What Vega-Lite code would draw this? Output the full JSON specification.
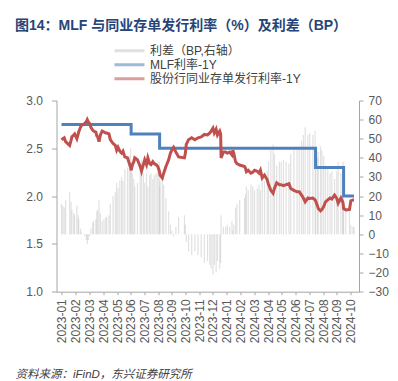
{
"$schema": "https://vega.github.io/schema/vega-lite/v6.json",
"width": 302.5,
"height": 191.2,
"autosize": {"type": "none"},
"padding": {"left": 56.5, "top": 100.5, "right": 39, "bottom": 89.3},
"background": "white",
"title": {"text": "图14：MLF 与同业存单发行利率（%）及利差（BP）", "anchor": "start", "frame": "group", "dx": -41.5, "dy": -1, "fontSize": 14, "fontWeight": "bold", "color": "#264478", "font": "Liberation Sans, Noto Sans CJK SC", "offset": 10},
"config": {
  "view": {"stroke": null},
  "axis": {"grid": false, "labelFont": "Liberation Sans, Noto Sans CJK SC", "labelFontSize": 12, "labelColor": "#595959", "domainColor": "#a6a6a6", "tickColor": "#a6a6a6"},
  "legend": {"labelFont": "Liberation Sans, Noto Sans CJK SC"}
},
"data": {"values": [
{"d":"2023-01-10","ncd":2.59,"mlf":2.75,"sp":16},
{"d":"2023-01-13","ncd":2.60,"mlf":2.75,"sp":15},
{"d":"2023-01-16","ncd":2.61,"mlf":2.75,"sp":14},
{"d":"2023-01-19","ncd":2.57,"mlf":2.75,"sp":18},
{"d":"2023-01-28","ncd":2.53,"mlf":2.75,"sp":22},
{"d":"2023-01-31","ncd":2.58,"mlf":2.75,"sp":17},
{"d":"2023-02-02","ncd":2.62,"mlf":2.75,"sp":13},
{"d":"2023-02-06","ncd":2.64,"mlf":2.75,"sp":11},
{"d":"2023-02-08","ncd":2.65,"mlf":2.75,"sp":10},
{"d":"2023-02-13","ncd":2.60,"mlf":2.75,"sp":15},
{"d":"2023-02-16","ncd":2.65,"mlf":2.75,"sp":10},
{"d":"2023-02-17","ncd":2.67,"mlf":2.75,"sp":8},
{"d":"2023-02-21","ncd":2.72,"mlf":2.75,"sp":3},
{"d":"2023-02-23","ncd":2.74,"mlf":2.75,"sp":1},
{"d":"2023-02-28","ncd":2.75,"mlf":2.75,"sp":0},
{"d":"2023-03-02","ncd":2.76,"mlf":2.75,"sp":-1},
{"d":"2023-03-06","ncd":2.78,"mlf":2.75,"sp":-3},
{"d":"2023-03-08","ncd":2.80,"mlf":2.75,"sp":-5},
{"d":"2023-03-10","ncd":2.78,"mlf":2.75,"sp":-3},
{"d":"2023-03-13","ncd":2.76,"mlf":2.75,"sp":-1},
{"d":"2023-03-16","ncd":2.72,"mlf":2.75,"sp":3},
{"d":"2023-03-20","ncd":2.69,"mlf":2.75,"sp":6},
{"d":"2023-03-22","ncd":2.68,"mlf":2.75,"sp":7},
{"d":"2023-03-27","ncd":2.67,"mlf":2.75,"sp":8},
{"d":"2023-03-29","ncd":2.63,"mlf":2.75,"sp":12},
{"d":"2023-03-31","ncd":2.62,"mlf":2.75,"sp":13},
{"d":"2023-04-03","ncd":2.57,"mlf":2.75,"sp":18},
{"d":"2023-04-06","ncd":2.64,"mlf":2.75,"sp":11},
{"d":"2023-04-10","ncd":2.68,"mlf":2.75,"sp":7},
{"d":"2023-04-14","ncd":2.67,"mlf":2.75,"sp":8},
{"d":"2023-04-18","ncd":2.66,"mlf":2.75,"sp":9},
{"d":"2023-04-20","ncd":2.66,"mlf":2.75,"sp":9},
{"d":"2023-04-25","ncd":2.65,"mlf":2.75,"sp":10},
{"d":"2023-04-28","ncd":2.59,"mlf":2.75,"sp":16},
{"d":"2023-05-04","ncd":2.55,"mlf":2.75,"sp":20},
{"d":"2023-05-09","ncd":2.53,"mlf":2.75,"sp":22},
{"d":"2023-05-12","ncd":2.48,"mlf":2.75,"sp":27},
{"d":"2023-05-15","ncd":2.51,"mlf":2.75,"sp":24},
{"d":"2023-05-19","ncd":2.47,"mlf":2.75,"sp":28},
{"d":"2023-05-23","ncd":2.45,"mlf":2.75,"sp":30},
{"d":"2023-05-26","ncd":2.47,"mlf":2.75,"sp":28},
{"d":"2023-05-30","ncd":2.41,"mlf":2.75,"sp":34},
{"d":"2023-06-05","ncd":2.40,"mlf":2.75,"sp":35},
{"d":"2023-06-09","ncd":2.34,"mlf":2.75,"sp":41},
{"d":"2023-06-12","ncd":2.30,"mlf":2.75,"sp":45},
{"d":"2023-06-13","ncd":2.27,"mlf":2.65,"sp":38},
{"d":"2023-06-16","ncd":2.33,"mlf":2.65,"sp":32},
{"d":"2023-06-19","ncd":2.36,"mlf":2.65,"sp":29},
{"d":"2023-06-21","ncd":2.40,"mlf":2.65,"sp":25},
{"d":"2023-06-27","ncd":2.38,"mlf":2.65,"sp":27},
{"d":"2023-07-03","ncd":2.31,"mlf":2.65,"sp":34},
{"d":"2023-07-06","ncd":2.26,"mlf":2.65,"sp":39},
{"d":"2023-07-10","ncd":2.33,"mlf":2.65,"sp":32},
{"d":"2023-07-13","ncd":2.38,"mlf":2.65,"sp":27},
{"d":"2023-07-17","ncd":2.33,"mlf":2.65,"sp":32},
{"d":"2023-07-20","ncd":2.40,"mlf":2.65,"sp":25},
{"d":"2023-07-24","ncd":2.34,"mlf":2.65,"sp":31},
{"d":"2023-07-27","ncd":2.33,"mlf":2.65,"sp":32},
{"d":"2023-07-31","ncd":2.36,"mlf":2.65,"sp":29},
{"d":"2023-08-03","ncd":2.34,"mlf":2.65,"sp":31},
{"d":"2023-08-07","ncd":2.33,"mlf":2.65,"sp":32},
{"d":"2023-08-11","ncd":2.31,"mlf":2.65,"sp":34},
{"d":"2023-08-14","ncd":2.27,"mlf":2.65,"sp":38},
{"d":"2023-08-15","ncd":2.25,"mlf":2.50,"sp":25},
{"d":"2023-08-16","ncd":2.22,"mlf":2.50,"sp":28},
{"d":"2023-08-21","ncd":2.19,"mlf":2.50,"sp":31},
{"d":"2023-08-24","ncd":2.24,"mlf":2.50,"sp":26},
{"d":"2023-08-29","ncd":2.31,"mlf":2.50,"sp":19},
{"d":"2023-09-04","ncd":2.38,"mlf":2.50,"sp":12},
{"d":"2023-09-08","ncd":2.45,"mlf":2.50,"sp":5},
{"d":"2023-09-11","ncd":2.48,"mlf":2.50,"sp":2},
{"d":"2023-09-15","ncd":2.51,"mlf":2.50,"sp":-1},
{"d":"2023-09-20","ncd":2.46,"mlf":2.50,"sp":4},
{"d":"2023-09-26","ncd":2.41,"mlf":2.50,"sp":9},
{"d":"2023-10-09","ncd":2.40,"mlf":2.50,"sp":10},
{"d":"2023-10-11","ncd":2.45,"mlf":2.50,"sp":5},
{"d":"2023-10-13","ncd":2.54,"mlf":2.50,"sp":-4},
{"d":"2023-10-18","ncd":2.59,"mlf":2.50,"sp":-9},
{"d":"2023-10-25","ncd":2.61,"mlf":2.50,"sp":-11},
{"d":"2023-11-01","ncd":2.59,"mlf":2.50,"sp":-9},
{"d":"2023-11-08","ncd":2.61,"mlf":2.50,"sp":-11},
{"d":"2023-11-15","ncd":2.62,"mlf":2.50,"sp":-12},
{"d":"2023-11-22","ncd":2.645,"mlf":2.50,"sp":-15},
{"d":"2023-11-29","ncd":2.64,"mlf":2.50,"sp":-14},
{"d":"2023-12-04","ncd":2.66,"mlf":2.50,"sp":-16},
{"d":"2023-12-07","ncd":2.68,"mlf":2.50,"sp":-18},
{"d":"2023-12-11","ncd":2.71,"mlf":2.50,"sp":-21},
{"d":"2023-12-14","ncd":2.66,"mlf":2.50,"sp":-16},
{"d":"2023-12-18","ncd":2.70,"mlf":2.50,"sp":-20},
{"d":"2023-12-21","ncd":2.64,"mlf":2.50,"sp":-14},
{"d":"2023-12-26","ncd":2.68,"mlf":2.50,"sp":-18},
{"d":"2023-12-28","ncd":2.65,"mlf":2.50,"sp":-15},
{"d":"2023-12-29","ncd":2.40,"mlf":2.50,"sp":10},
{"d":"2024-01-03","ncd":2.46,"mlf":2.50,"sp":4},
{"d":"2024-01-08","ncd":2.46,"mlf":2.50,"sp":4},
{"d":"2024-01-12","ncd":2.45,"mlf":2.50,"sp":5},
{"d":"2024-01-17","ncd":2.46,"mlf":2.50,"sp":4},
{"d":"2024-01-22","ncd":2.43,"mlf":2.50,"sp":7},
{"d":"2024-01-24","ncd":2.48,"mlf":2.50,"sp":2},
{"d":"2024-01-26","ncd":2.45,"mlf":2.50,"sp":5},
{"d":"2024-01-30","ncd":2.36,"mlf":2.50,"sp":14},
{"d":"2024-02-02","ncd":2.34,"mlf":2.50,"sp":16},
{"d":"2024-02-08","ncd":2.325,"mlf":2.50,"sp":18},
{"d":"2024-02-19","ncd":2.31,"mlf":2.50,"sp":19},
{"d":"2024-02-21","ncd":2.29,"mlf":2.50,"sp":21},
{"d":"2024-02-23","ncd":2.255,"mlf":2.50,"sp":25},
{"d":"2024-02-27","ncd":2.27,"mlf":2.50,"sp":23},
{"d":"2024-03-04","ncd":2.24,"mlf":2.50,"sp":26},
{"d":"2024-03-08","ncd":2.25,"mlf":2.50,"sp":25},
{"d":"2024-03-12","ncd":2.27,"mlf":2.50,"sp":23},
{"d":"2024-03-18","ncd":2.26,"mlf":2.50,"sp":24},
{"d":"2024-03-22","ncd":2.24,"mlf":2.50,"sp":26},
{"d":"2024-03-25","ncd":2.27,"mlf":2.50,"sp":23},
{"d":"2024-03-29","ncd":2.19,"mlf":2.50,"sp":31},
{"d":"2024-04-03","ncd":2.22,"mlf":2.50,"sp":28},
{"d":"2024-04-09","ncd":2.17,"mlf":2.50,"sp":33},
{"d":"2024-04-12","ncd":2.12,"mlf":2.50,"sp":38},
{"d":"2024-04-17","ncd":2.06,"mlf":2.50,"sp":44},
{"d":"2024-04-22","ncd":2.03,"mlf":2.50,"sp":47},
{"d":"2024-04-25","ncd":2.08,"mlf":2.50,"sp":42},
{"d":"2024-04-30","ncd":2.14,"mlf":2.50,"sp":36},
{"d":"2024-05-06","ncd":2.12,"mlf":2.50,"sp":38},
{"d":"2024-05-10","ncd":2.12,"mlf":2.50,"sp":38},
{"d":"2024-05-15","ncd":2.11,"mlf":2.50,"sp":39},
{"d":"2024-05-21","ncd":2.12,"mlf":2.50,"sp":38},
{"d":"2024-05-27","ncd":2.13,"mlf":2.50,"sp":37},
{"d":"2024-05-31","ncd":2.08,"mlf":2.50,"sp":42},
{"d":"2024-06-07","ncd":2.06,"mlf":2.50,"sp":44},
{"d":"2024-06-14","ncd":2.045,"mlf":2.50,"sp":46},
{"d":"2024-06-19","ncd":2.045,"mlf":2.50,"sp":46},
{"d":"2024-06-24","ncd":2.01,"mlf":2.50,"sp":49},
{"d":"2024-06-28","ncd":1.98,"mlf":2.50,"sp":52},
{"d":"2024-07-02","ncd":1.94,"mlf":2.50,"sp":56},
{"d":"2024-07-08","ncd":1.98,"mlf":2.50,"sp":52},
{"d":"2024-07-12","ncd":1.975,"mlf":2.50,"sp":53},
{"d":"2024-07-19","ncd":1.98,"mlf":2.50,"sp":52},
{"d":"2024-07-24","ncd":1.96,"mlf":2.50,"sp":54},
{"d":"2024-07-25","ncd":1.95,"mlf":2.30,"sp":35},
{"d":"2024-07-29","ncd":1.90,"mlf":2.30,"sp":40},
{"d":"2024-07-31","ncd":1.87,"mlf":2.30,"sp":43},
{"d":"2024-08-05","ncd":1.845,"mlf":2.30,"sp":46},
{"d":"2024-08-08","ncd":1.86,"mlf":2.30,"sp":44},
{"d":"2024-08-12","ncd":1.89,"mlf":2.30,"sp":41},
{"d":"2024-08-16","ncd":1.94,"mlf":2.30,"sp":36},
{"d":"2024-08-21","ncd":1.96,"mlf":2.30,"sp":34},
{"d":"2024-08-26","ncd":1.98,"mlf":2.30,"sp":32},
{"d":"2024-08-30","ncd":1.97,"mlf":2.30,"sp":33},
{"d":"2024-09-05","ncd":2.01,"mlf":2.30,"sp":29},
{"d":"2024-09-10","ncd":1.975,"mlf":2.30,"sp":33},
{"d":"2024-09-13","ncd":1.925,"mlf":2.30,"sp":38},
{"d":"2024-09-19","ncd":1.98,"mlf":2.30,"sp":32},
{"d":"2024-09-23","ncd":1.94,"mlf":2.30,"sp":36},
{"d":"2024-09-24","ncd":1.92,"mlf":2.30,"sp":38},
{"d":"2024-09-25","ncd":1.87,"mlf":2.00,"sp":13},
{"d":"2024-09-30","ncd":1.855,"mlf":2.00,"sp":15},
{"d":"2024-10-08","ncd":1.86,"mlf":2.00,"sp":14},
{"d":"2024-10-11","ncd":1.95,"mlf":2.00,"sp":5},
{"d":"2024-10-16","ncd":1.96,"mlf":2.00,"sp":4},
{"d":"2024-10-18","ncd":1.96,"mlf":2.00,"sp":4}
]},
"encoding": {
  "x": {"field": "d", "type": "temporal",
    "scale": {"type": "utc", "domain": [{"year": 2023, "month": 1, "date": 10, "utc": true}, {"year": 2024, "month": 10, "date": 18, "utc": true}]},
    "axis": {
      "values": [
        {"year":2023,"month":1,"date":11,"utc":true},{"year":2023,"month":2,"date":10,"utc":true},{"year":2023,"month":3,"date":13,"utc":true},{"year":2023,"month":4,"date":12,"utc":true},{"year":2023,"month":5,"date":13,"utc":true},{"year":2023,"month":6,"date":12,"utc":true},{"year":2023,"month":7,"date":12,"utc":true},{"year":2023,"month":8,"date":12,"utc":true},{"year":2023,"month":9,"date":11,"utc":true},{"year":2023,"month":10,"date":12,"utc":true},{"year":2023,"month":11,"date":11,"utc":true},{"year":2023,"month":12,"date":11,"utc":true},
        {"year":2024,"month":1,"date":11,"utc":true},{"year":2024,"month":2,"date":10,"utc":true},{"year":2024,"month":3,"date":12,"utc":true},{"year":2024,"month":4,"date":11,"utc":true},{"year":2024,"month":5,"date":11,"utc":true},{"year":2024,"month":6,"date":11,"utc":true},{"year":2024,"month":7,"date":11,"utc":true},{"year":2024,"month":8,"date":11,"utc":true},{"year":2024,"month":9,"date":10,"utc":true},{"year":2024,"month":10,"date":10,"utc":true}
      ],
      "labelExpr": "utcFormat(datum.value, '%Y-%m')",
      "labelAngle": 270, "tickSize": 3, "labelPadding": 4, "labelOverlap": false, "labelBound": false, "labelFlush": false,
      "title": "资料来源：iFinD，东兴证券研究所", "titleX": -41.5, "titleY": 83, "titleAlign": "left", "titleAnchor": "start", "titleBaseline": "middle", "titleAngle": 0,
      "titleFontStyle": "italic", "titleFontWeight": "normal", "titleFontSize": 11.5, "titleColor": "#404040", "titleFont": "Liberation Sans, Noto Sans CJK SC"
    }
  }
},
"layer": [
  {
    "mark": {"type": "bar", "size": 1.2, "opacity": 0.55},
    "encoding": {
      "y": {"field": "sp", "type": "quantitative", "scale": {"domain": [-30, 70], "nice": false, "zero": false},
        "axis": {"orient": "right", "title": null, "values": [-30, -20, -10, 0, 10, 20, 30, 40, 50, 60, 70], "tickSize": 4, "labelPadding": 5}},
      "color": {"datum": "利差（BP,右轴）", "type": "nominal",
        "scale": {"domain": ["利差（BP,右轴）", "MLF利率-1Y", "股份行同业存单发行利率-1Y"], "range": ["#c8c8c8", "#4F81BD", "#C0504D"]},
        "legend": {"orient": "none", "legendX": 56.5, "legendY": -56.5, "title": null, "symbolType": "stroke", "symbolSize": 900, "symbolStrokeWidth": 3, "clipHeight": 13.5,
          "labelFontSize": 12, "labelColor": "#404040", "labelOffset": 4, "labelLimit": 0, "padding": 0, "rowPadding": 0,
          "encode": {"symbols": {"update": {"strokeWidth": {"signal": "datum.index === 0 ? 6 : 3"}, "stroke": {"scale": "color", "field": "value"}, "opacity": {"value": 1}}}}}
      }
    }
  },
  {
    "layer": [
      {
        "mark": {"type": "line", "interpolate": "step-after", "strokeWidth": 3},
        "encoding": {
          "y": {"field": "mlf", "type": "quantitative", "scale": {"domain": [1, 3], "nice": false, "zero": false},
            "axis": {"orient": "left", "title": null, "values": [1, 1.5, 2, 2.5, 3], "format": ".1f", "tickSize": 5, "labelPadding": 9}},
          "color": {"datum": "MLF利率-1Y", "type": "nominal"}
        }
      },
      {
        "mark": {"type": "line", "strokeWidth": 3},
        "encoding": {
          "y": {"field": "ncd", "type": "quantitative", "scale": {"domain": [1, 3], "nice": false, "zero": false},
            "axis": {"orient": "left", "title": null, "values": [1, 1.5, 2, 2.5, 3], "format": ".1f", "tickSize": 5, "labelPadding": 9}},
          "color": {"datum": "股份行同业存单发行利率-1Y", "type": "nominal"}
        }
      }
    ]
  }
],
"resolve": {"scale": {"y": "independent"}}
}
